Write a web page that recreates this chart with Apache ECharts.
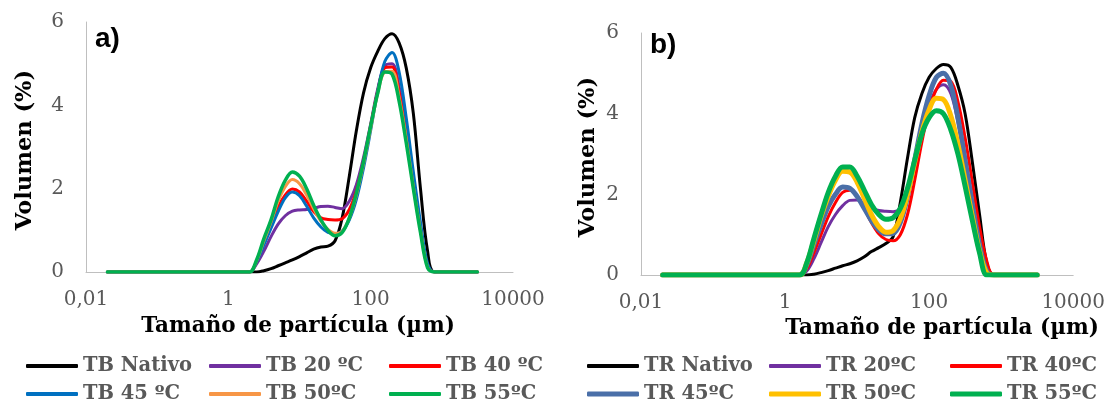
<!DOCTYPE html>
<html>
<head>
<meta charset="utf-8">
<script src="https://cdn.jsdelivr.net/npm/echarts@6/dist/echarts.min.js"></script>
<style>
html, body { margin: 0; padding: 0; background: #fff; }
#main { width: 1108px; height: 403px; }
</style>
</head>
<body>
<div id="main"></div>
<script>
// tamaños de partícula (µm), comunes a las dos gráficas
var sizes = [0.02, 1.58, 2.0, 2.51, 3.16, 3.98, 5.01, 6.31, 7.94, 10, 12.6, 15.8, 20, 25.1, 31.6, 39.8,
             50.1, 63.1, 79.4, 100, 126, 158, 200, 251, 316, 398, 501, 631, 794, 3160];

// a) TB
var namesA = ['TB Nativo', 'TB 20 ºC', 'TB 40 ºC', 'TB 45 ºC', 'TB 50ºC', 'TB 55ºC'];
var tbNativo = [0,0,0,0,0.03,0.08,0.15,0.22,0.29,0.37,0.46,0.55,0.6,0.62,0.75,1.3,2.3,3.4,4.3,4.9,5.3,5.6,5.72,5.5,4.9,3.8,2.0,0.5,0,0];
var tb20 = [0,0,0,0.2,0.5,0.85,1.15,1.35,1.46,1.49,1.5,1.53,1.57,1.58,1.55,1.52,1.7,2.1,2.75,3.55,4.4,4.95,5.0,4.45,3.4,2.2,1.05,0.15,0,0];
var tb40 = [0,0,0,0.26,0.7,1.1,1.55,1.85,1.99,1.92,1.7,1.45,1.3,1.26,1.25,1.28,1.5,1.95,2.65,3.5,4.35,4.9,4.92,4.3,3.3,2.15,1.05,0.15,0,0];
var tb45 = [0,0,0,0.25,0.65,1.05,1.45,1.78,1.92,1.83,1.58,1.3,1.08,0.95,0.92,0.98,1.25,1.75,2.5,3.4,4.35,5.05,5.27,4.8,3.7,2.4,1.2,0.2,0,0];
var tb50 = [0,0,0,0.28,0.75,1.2,1.7,2.05,2.22,2.12,1.85,1.52,1.22,1.02,0.93,0.98,1.3,1.85,2.6,3.45,4.3,4.8,4.82,4.2,3.2,2.05,1.0,0.12,0,0];
var tb55 = [0,0,0,0.3,0.8,1.25,1.8,2.2,2.4,2.3,2.0,1.6,1.25,1.0,0.87,0.95,1.3,1.9,2.65,3.5,4.3,4.8,4.75,4.1,3.1,2.0,0.95,0.1,0,0];

// b) TR
var namesB = ['TR Nativo', 'TR 20ºC', 'TR 40ºC', 'TR 45ºC', 'TR 50ºC', 'TR 55ºC'];
var trNativo = [0,0,0,0.02,0.06,0.11,0.17,0.23,0.28,0.35,0.45,0.58,0.68,0.78,0.95,1.8,2.9,3.9,4.5,4.9,5.12,5.22,5.15,4.7,4.0,2.8,1.5,0.3,0,0];
var tr20 = [0,0,0.1,0.4,0.8,1.2,1.5,1.72,1.85,1.86,1.75,1.65,1.6,1.58,1.57,1.65,2.05,2.8,3.6,4.2,4.6,4.72,4.5,3.8,2.8,1.75,0.75,0.1,0,0];
var tr40 = [0,0,0.15,0.55,1.0,1.45,1.8,2.05,2.1,1.95,1.65,1.3,1.02,0.88,0.85,1.0,1.5,2.35,3.3,4.1,4.6,4.83,4.8,4.3,3.4,2.3,1.2,0.35,0,0];
var tr45 = [0,0,0.25,0.75,1.25,1.7,2.0,2.18,2.15,1.95,1.65,1.35,1.12,1.02,1.03,1.3,1.95,2.85,3.75,4.45,4.9,5.0,4.7,3.9,2.85,1.75,0.75,0.1,0,0];
var tr50 = [0,0,0.3,0.85,1.45,1.95,2.35,2.57,2.55,2.3,1.9,1.5,1.2,1.06,1.1,1.4,2.0,2.8,3.55,4.1,4.38,4.35,3.95,3.25,2.35,1.45,0.6,0.05,0,0];
var tr55 = [0,0,0.3,0.9,1.5,2.05,2.45,2.68,2.68,2.45,2.1,1.75,1.5,1.38,1.42,1.65,2.15,2.85,3.5,3.9,4.07,4.0,3.6,3.0,2.2,1.35,0.55,0,0,0];

var xTickLabels = ['0,01', '1', '100', '10000'];   // exponentes -2, 0, 2, 4

var colorsA = ['#000000', '#7030A0', '#FF0000', '#0070C0', '#F79646', '#00B050'];
var colorsB = ['#000000', '#7030A0', '#FF0000', '#4A6FA8', '#FFC000', '#00B050'];
var widthsA = [3, 3, 3, 3, 3, 3.5];
var widthsB = [3, 3, 3, 5, 5, 5];

var serif = 'DejaVu Serif';
var gris = '#595959';

var myChart = echarts.init(document.getElementById('main'));

function pares(vals) {
    return sizes.map(function (s, i) { return [s, vals[i]]; });
}

function ejeX(idx) {
    return {
        type: 'log', logBase: 10, gridIndex: idx, min: 0.01, max: 10000,
        axisLine: { lineStyle: { color: '#BFBFBF', width: 1 } },
        axisTick: { show: false },
        splitLine: { show: false },
        axisLabel: {
            color: gris, fontFamily: serif, fontSize: 20, margin: 18,
            formatter: function (v) {
                var e = Math.round(Math.log(v) / Math.LN10);
                if (e % 2 !== 0) return '';
                return xTickLabels[(e + 2) / 2] || '';
            }
        }
    };
}

function ejeY(idx) {
    return {
        type: 'value', gridIndex: idx, min: 0, max: 6, interval: 2,
        axisLine: { show: true, lineStyle: { color: '#BFBFBF', width: 1 } },
        axisTick: { show: false },
        splitLine: { show: false },
        axisLabel: { color: gris, fontFamily: serif, fontSize: 20, margin: 22 }
    };
}

var series = [];
var legends = [];
var datosA = [tbNativo, tb20, tb40, tb45, tb50, tb55];
var datosB = [trNativo, tr20, tr40, tr45, tr50, tr55];

// posiciones de la leyenda (3 columnas x 2 filas)
var legColsA = [26, 209, 389];
var legColsB = [587, 769, 950];
var legRows = [356, 384];

function agregar(nombres, datos, colores, anchos, idx, cols) {
    nombres.forEach(function (n, i) {
        series.push({
            name: n, type: 'line', xAxisIndex: idx, yAxisIndex: idx,
            data: pares(datos[i]), smooth: 0.35, showSymbol: false,
            lineStyle: { color: colores[i], width: anchos[i], cap: 'round', join: 'round' },
            itemStyle: { color: colores[i] },
            emphasis: { disabled: true }
        });
        legends.push({
            data: [n], left: cols[i % 3], top: legRows[Math.floor(i / 3)],
            icon: 'roundRect', itemWidth: 52, itemHeight: anchos[i] > 4 ? 5 : 4,
            selectedMode: false, padding: 0,
            textStyle: { color: gris, fontFamily: serif, fontWeight: 'bold', fontSize: 19.5 }
        });
    });
}
agregar(namesA, datosA, colorsA, widthsA, 0, legColsA);
agregar(namesB, datosB, colorsB, widthsB, 1, legColsB);

var option = {
    animation: false,
    backgroundColor: '#fff',
    grid: [
        { left: 86, top: 22, width: 427, height: 250 },
        { left: 641, top: 33, width: 433, height: 242 }
    ],
    xAxis: [ejeX(0), ejeX(1)],
    yAxis: [ejeY(0), ejeY(1)],
    legend: legends,
    series: series,
    graphic: [
        { type: 'text', left: 95, top: 25, style: { text: 'a)', font: 'bold 28px "Liberation Sans"', fill: '#000' } },
        { type: 'text', left: 650, top: 31, style: { text: 'b)', font: 'bold 28px "Liberation Sans"', fill: '#000' } },
        { type: 'text', x: 298, y: 326, style: { text: 'Tamaño de partícula (µm)', font: 'bold 21.5px "DejaVu Serif"', fill: '#000', align: 'center', verticalAlign: 'middle' } },
        { type: 'text', x: 942, y: 328, style: { text: 'Tamaño de partícula (µm)', font: 'bold 21.5px "DejaVu Serif"', fill: '#000', align: 'center', verticalAlign: 'middle' } },
        { type: 'text', x: 25, y: 150, rotation: Math.PI / 2, style: { text: 'Volumen (%)', font: 'bold 22.5px "DejaVu Serif"', fill: '#000', align: 'center', verticalAlign: 'middle' } },
        { type: 'text', x: 588, y: 157, rotation: Math.PI / 2, style: { text: 'Volumen (%)', font: 'bold 22.5px "DejaVu Serif"', fill: '#000', align: 'center', verticalAlign: 'middle' } }
    ]
};

myChart.setOption(option);
</script>
</body>
</html>
